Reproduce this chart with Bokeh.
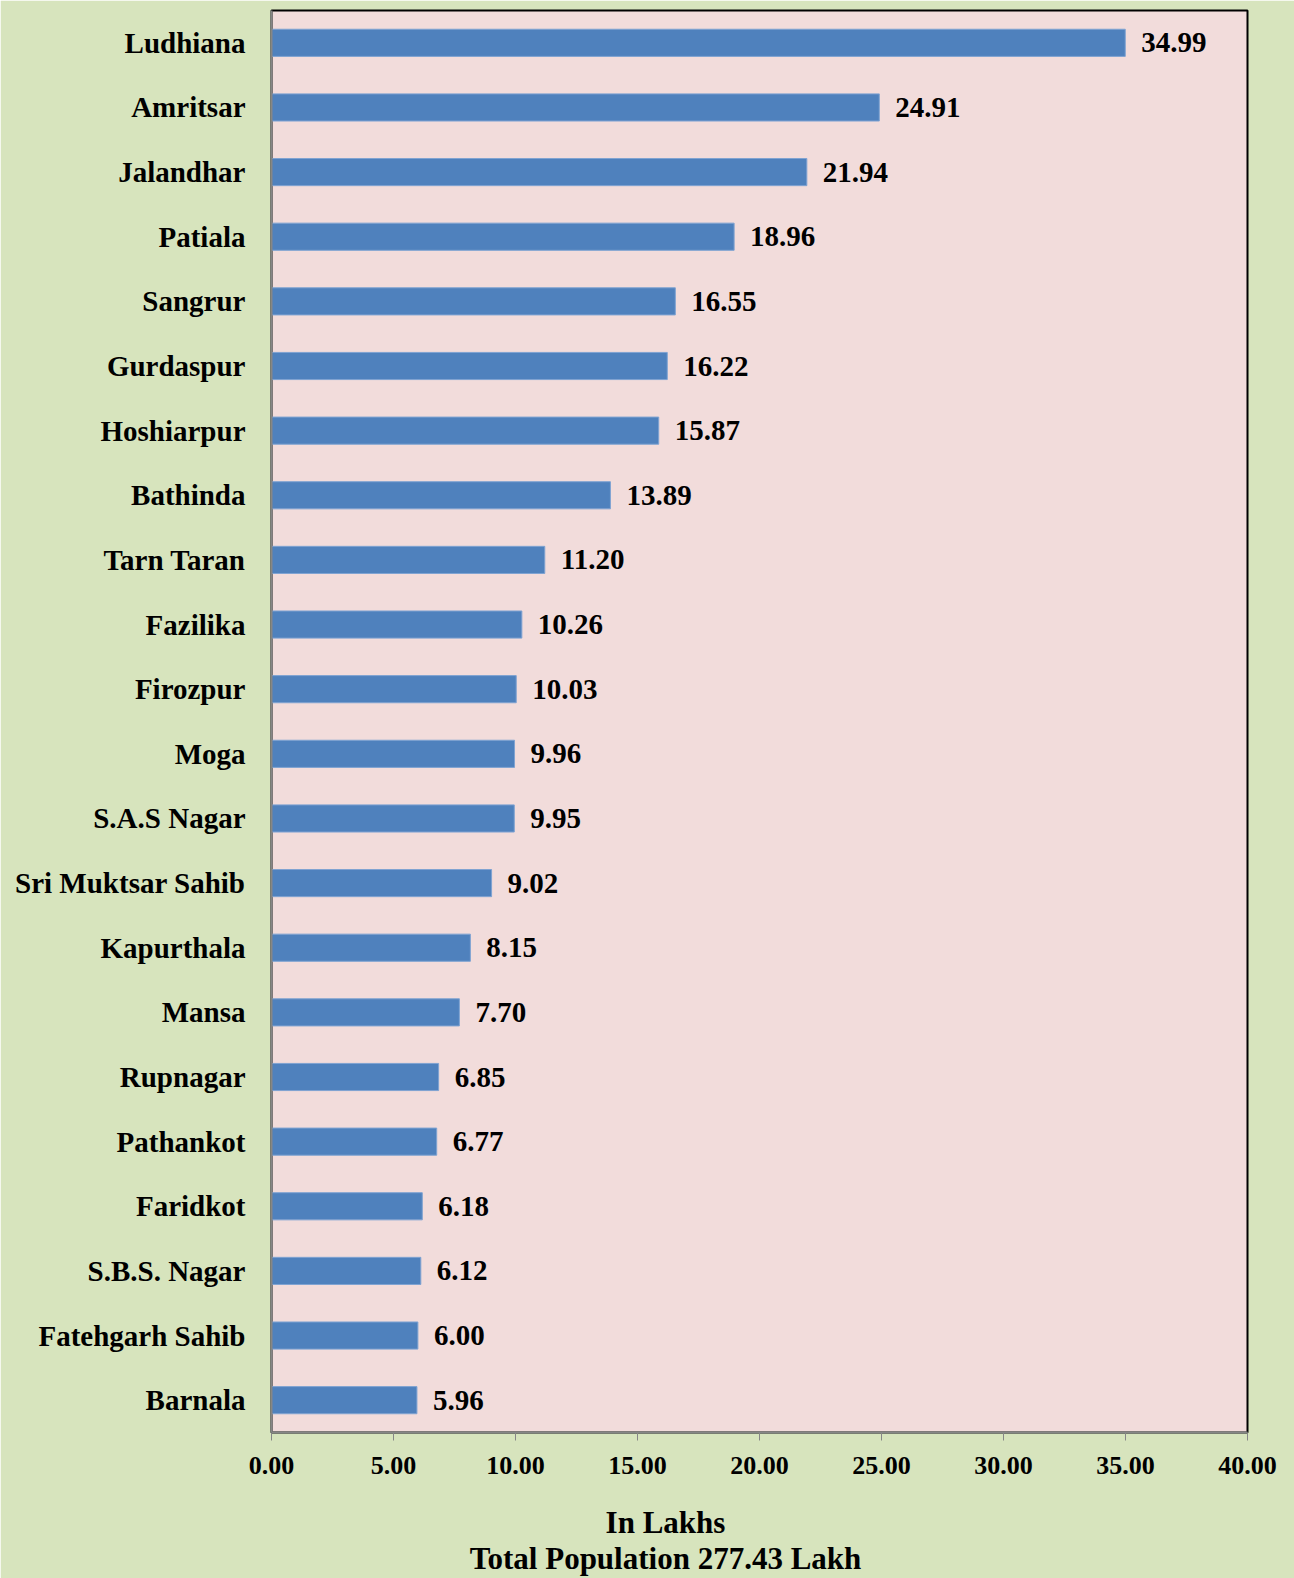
from bokeh.plotting import figure
from bokeh.models import (ColumnDataSource, LabelSet, FixedTicker, NumeralTickFormatter,
                          FactorRange, Range1d, LinearAxis)
from bokeh.embed import file_html
from bokeh.resources import INLINE

districts = ["Ludhiana", "Amritsar", "Jalandhar", "Patiala", "Sangrur", "Gurdaspur",
             "Hoshiarpur", "Bathinda", "Tarn Taran", "Fazilika", "Firozpur", "Moga",
             "S.A.S Nagar", "Sri Muktsar Sahib", "Kapurthala", "Mansa", "Rupnagar",
             "Pathankot", "Faridkot", "S.B.S. Nagar", "Fatehgarh Sahib", "Barnala"]
population = [34.99, 24.91, 21.94, 18.96, 16.55, 16.22, 15.87, 13.89, 11.20, 10.26,
              10.03, 9.96, 9.95, 9.02, 8.15, 7.70, 6.85, 6.77, 6.18, 6.12, 6.00, 5.96]
labels = ["%.2f" % v for v in population]
x_ticks = [0, 5, 10, 15, 20, 25, 30, 35, 40]
footer_lines = ["In Lakhs", "Total Population 277.43 Lakh"]

FONT = "Liberation Serif"
BG = "#D7E4BD"

src = ColumnDataSource(dict(district=districts, pop=population, label=labels))

p = figure(width=1294, height=1578, output_backend="svg", toolbar_location=None,
           y_range=FactorRange(factors=list(reversed(districts)), range_padding=0),
           x_range=Range1d(0, 40),
           min_border_left=271, min_border_right=47, min_border_top=10, min_border_bottom=146)

p.background_fill_color = "#F2DCDB"
p.border_fill_color = BG
p.outline_line_color = "black"
p.outline_line_width = 2

p.hbar(y="district", right="pop", left=0, height=0.42, source=src,
       fill_color="#4F81BD", line_color="#7FA3D2", line_width=1)

p.add_layout(LabelSet(x="pop", y="district", text="label", source=src, x_offset=16,
                      text_baseline="middle", text_font=FONT, text_font_style="bold",
                      text_font_size="29px", text_color="black"))

p.xgrid.grid_line_color = None
p.ygrid.grid_line_color = None

xa = p.xaxis[0]
xa.ticker = FixedTicker(ticks=x_ticks)
xa.formatter = NumeralTickFormatter(format="0.00")
xa.minor_tick_line_color = None
xa.major_tick_in = 0
xa.major_tick_out = 8
xa.major_tick_line_color = "#868686"
xa.axis_line_color = "#868686"
xa.axis_line_width = 2
xa.major_label_text_font = FONT
xa.major_label_text_font_style = "bold"
xa.major_label_text_font_size = "26px"
xa.major_label_text_color = "black"
xa.major_label_standoff = 16

ya = p.yaxis[0]
ya.major_tick_line_color = None
ya.minor_tick_line_color = None
ya.axis_line_color = "#868686"
ya.axis_line_width = 2
ya.major_label_text_font = FONT
ya.major_label_text_font_style = "bold"
ya.major_label_text_font_size = "29px"
ya.major_label_text_color = "black"
ya.major_label_standoff = 20

# footer lines as tick-less axes below; an extra range in page pixels across the frame
p.extra_x_ranges = {"foot": Range1d(271, 1247)}
FOOT_X = 665
for txt, standoff in zip(footer_lines, [28, -2]):
    ax = LinearAxis(x_range_name="foot", ticker=FixedTicker(ticks=[FOOT_X]),
                    major_label_overrides={FOOT_X: txt})
    ax.axis_line_color = None
    ax.major_tick_line_color = None
    ax.minor_tick_line_color = None
    ax.major_tick_in = 0
    ax.major_tick_out = 0
    ax.major_label_standoff = standoff
    ax.major_label_text_font = FONT
    ax.major_label_text_font_style = "bold"
    ax.major_label_text_font_size = "31px"
    ax.major_label_text_color = "black"
    p.add_layout(ax, "below")

open("out.html", "w").write(file_html(p, INLINE))
